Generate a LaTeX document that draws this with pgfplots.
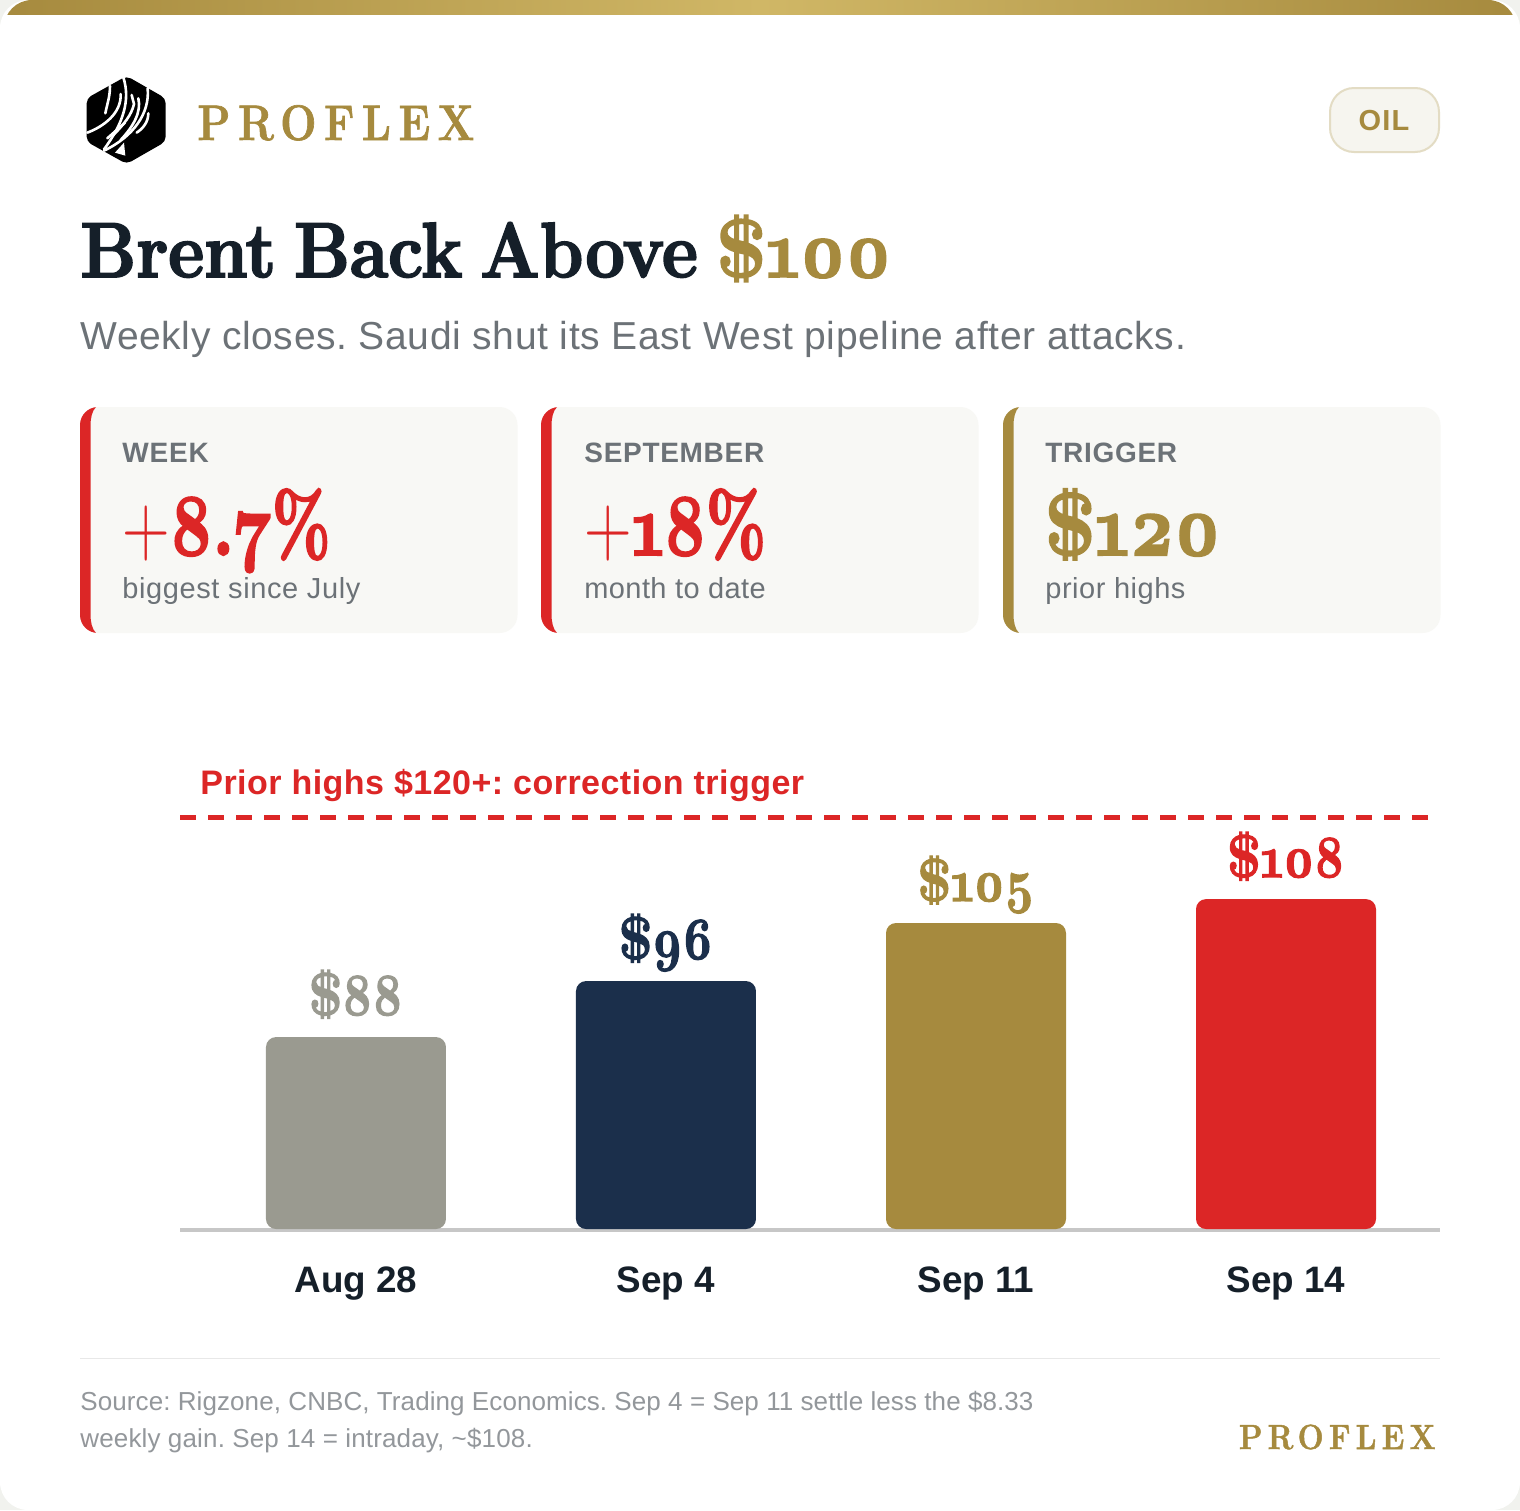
\documentclass[border=0pt]{standalone}
\usepackage{pgfplots}
\pgfplotsset{compat=1.18}
\usepackage{fontspec}
\setmainfont{Liberation Sans}
\newfontfamily\disp[Numbers=OldStyle]{Latin Modern Roman}
\definecolor{gold}{HTML}{A68A3E}
\definecolor{goldm}{HTML}{D0B766}
\definecolor{red1}{HTML}{DC2626}
\definecolor{navy}{HTML}{1B2F4B}
\definecolor{stone}{HTML}{9A9A90}
\definecolor{ink}{HTML}{151F29}
\definecolor{mut}{HTML}{6C7277}
\definecolor{foot}{HTML}{93979B}
\definecolor{cardbg}{HTML}{F8F8F5}
\newcommand{\fs}[1]{\fontsize{#1pt}{#1pt}\selectfont}
\newcommand{\hv}[2]{\disp\bfseries\addfontfeature{FakeStretch=#1,FakeBold=#2}}
\newcommand{\card}[2]{%
  \fill[cardbg,rounded corners=9pt] (#1,407) rectangle ++(437.5,226);
  \begin{scope}
    \clip[rounded corners=9pt] (#1,407) rectangle ++(437.5,226);
    \fill[#2] (#1,407) -- (#1+16,407) .. controls (#1+12,411) and (#1+10.5,418) .. (#1+10.5,426)
      -- (#1+10.5,614) .. controls (#1+10.5,622) and (#1+12,629) .. (#1+16,633) -- (#1,633) -- cycle;
  \end{scope}}
\frenchspacing
\begin{document}
\begin{tikzpicture}[x=0.5pt,y=-0.5pt]
\useasboundingbox (0,0) rectangle (1520,1510);
\fill[fill={rgb,255:red,241;green,242;blue,238}] (0,0) rectangle (1520,1510);
\fill[white,rounded corners=14pt] (0,0) rectangle (1520,1510);
\begin{scope}
  \clip[rounded corners=14pt] (4,0) rectangle (1516,60);
  \shade[left color=gold,right color=gold,middle color=goldm] (0,0) rectangle (1520,14);
\end{scope}
% logo
\begin{scope}[x=0.5pt/3,y=-0.5pt/3]
  \fill[black,rounded corners=2.5pt] (380,228) -- (497,295) -- (497,425) -- (380,492) -- (260,425) -- (260,295) -- cycle;
  \begin{scope}[white,line width=1.3pt,line cap=round]
    \draw (262,398) .. controls (310,380) and (365,340) .. (362,282);
    \draw (370,232) .. controls (392,300) and (370,370) .. (312,448);
    \draw (443,265) .. controls (450,340) and (400,410) .. (312,452);
    \draw (330,258) .. controls (330,290) and (322,310) .. (316,340);
    \draw (395,285) -- (402,312) .. controls (395,345) and (370,375) .. (340,405);
    \draw (415,295) .. controls (425,335) and (400,380) .. (362,420);
    \draw (375,368) -- (322,415);
    \draw (445,340) .. controls (445,365) and (430,385) .. (410,398);
    \fill (345,458) -- (372,428) -- (376,467) -- cycle;
  \end{scope}
\end{scope}
\node[anchor=base west,inner sep=0pt,text=gold] at (197,140) {\fs{25}\hv{0.86}{1.3}\addfontfeature{LetterSpace=15}PROFLEX};
% pill
\draw[draw={rgb,255:red,227;green,220;blue,196},fill={rgb,255:red,246;green,245;blue,239},line width=1pt,rounded corners=12pt] (1330,88) rectangle (1439,152);
\node[anchor=base,inner sep=0pt,text=gold] at (1384,130.5) {\bfseries\fs{14.5}\addfontfeature{LetterSpace=4}OIL};
% title
\node[anchor=base west,inner sep=0pt,text=ink] at (80,277) {\fs{39}\hv{0.895}{2.4}Brent\hspace{9pt}Back\hspace{9pt}Above\hspace{9.5pt}\textcolor{gold}{\fs{41}\hv{0.87}{2.4}\$100}};
\node[anchor=base west,inner sep=0pt,text=mut] at (80,349) {\fs{19.5}\addfontfeature{LetterSpace=1.65}Weekly closes. Saudi shut its East West pipeline after attacks.};
% cards
\card{80}{red1}\card{541}{red1}\card{1003}{gold}
\node[anchor=base west,inner sep=0pt,text=mut] at (122,462) {\bfseries\fs{14}\addfontfeature{LetterSpace=2.8}WEEK};
\node[anchor=base west,inner sep=0pt,text=mut] at (584,462) {\bfseries\fs{14}\addfontfeature{LetterSpace=2.5}SEPTEMBER};
\node[anchor=base west,inner sep=0pt,text=mut] at (1045,462) {\bfseries\fs{14}\addfontfeature{LetterSpace=2.5}TRIGGER};
\node[anchor=base west,inner sep=0pt,text=red1] at (122,555) {\fs{44}{\disp\addfontfeature{FakeStretch=0.75}+}{\hv{0.77}{2.5}8.7}{\hv{0.7}{2.5}\%}};
\node[anchor=base west,inner sep=0pt,text=red1] at (584,555) {\fs{44}{\disp\addfontfeature{FakeStretch=0.75}+}{\hv{0.76}{2.5}18}{\hv{0.72}{2.5}\%}};
\node[anchor=base west,inner sep=0pt,text=gold] at (1045,555) {\fs{44}\hv{0.82}{2.5}\$120};
\node[anchor=base west,inner sep=0pt,text=mut] at (122,598) {\fs{14.5}\addfontfeature{LetterSpace=2.1}biggest since July};
\node[anchor=base west,inner sep=0pt,text=mut] at (584,598) {\fs{14.5}\addfontfeature{LetterSpace=1.4}month to date};
\node[anchor=base west,inner sep=0pt,text=mut] at (1045,598) {\fs{14.5}\addfontfeature{LetterSpace=1.8}prior highs};
% chart
\begin{axis}[
  at={(90pt,-614.5pt)},anchor=south west,scale only axis,
  width=630pt,height=223pt,
  xmin=-0.5677,xmax=3.4968,ymin=59.7,ymax=125,
  clip=false,
  axis line style={draw=none},
  major tick length=0pt,
  ytick=\empty,
  xtick={0,1,2,3},
  xticklabels={Aug 28,Sep 4,Sep 11,Sep 14},
  xticklabel style={font=\bfseries\fs{18.4},text=ink,anchor=base,yshift=-31.5pt},
  bar width=90pt,
  point meta=explicit symbolic,
  nodes near coords={\pgfplotspointmeta},
]
\addplot[color=black!22,line width=2pt,forget plot] coordinates {(-0.5677,59.5) (3.4968,59.5)};
\addplot[color=red1,line width=2.5pt,dash pattern=on 8pt off 6pt,nodes near coords={},forget plot] coordinates {(-0.5677,120) (3.458,120)};
\addplot[ybar,bar shift=0pt,fill=stone,draw=none,rounded corners=5pt,
  every node near coord/.append style={font=\fs{30}\hv{0.8}{2.2},text=stone,anchor=base,yshift=11pt}] coordinates {(0,87.8) [\$88]};
\addplot[ybar,bar shift=0pt,fill=navy,draw=none,rounded corners=5pt,
  every node near coord/.append style={font=\fs{30}\hv{0.8}{2.2},text=navy,anchor=base,yshift=11pt}] coordinates {(1,96) [\$96]};
\addplot[ybar,bar shift=0pt,fill=gold,draw=none,rounded corners=5pt,
  every node near coord/.append style={font=\fs{30}\hv{0.8}{2.2},text=gold,anchor=base,yshift=11pt}] coordinates {(2,104.5) [\$105]};
\addplot[ybar,bar shift=0pt,fill=red1,draw=none,rounded corners=5pt,
  every node near coord/.append style={font=\fs{30}\hv{0.8}{2.2},text=red1,anchor=base,yshift=11pt}] coordinates {(3,108) [\$108]};
\end{axis}
\node[anchor=base west,inner sep=0pt,text=red1] at (200,794) {\bfseries\fs{17}\addfontfeature{LetterSpace=1.4}Prior highs \$120+: correction trigger};
% footer
\draw[black!9,line width=0.5pt] (80,1358) -- (1440,1358);
\node[anchor=base west,inner sep=0pt,text=foot] at (80,1410) {\fs{13}\addfontfeature{LetterSpace=0.35}Source: Rigzone, CNBC, Trading Economics. Sep 4 = Sep 11 settle less the \$8.33};
\node[anchor=base west,inner sep=0pt,text=foot] at (80,1447) {\fs{13}\addfontfeature{LetterSpace=0.6}weekly gain. Sep 14 = intraday, \textasciitilde\$108.};
\node[anchor=base east,inner sep=0pt,text=gold] at (1436,1449) {\fs{17.5}\hv{0.875}{1.3}\addfontfeature{LetterSpace=15}PROFLEX};
\end{tikzpicture}
\end{document}
